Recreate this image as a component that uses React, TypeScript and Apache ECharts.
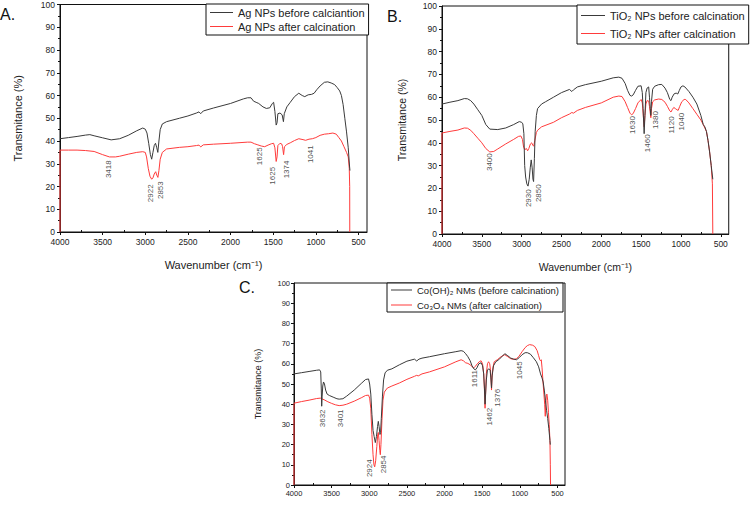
import React, { useEffect, useRef } from 'react';
import * as echarts from 'echarts';

const FONT = '"Liberation Sans", Arial, Helvetica, sans-serif';

const majorTicks = [500, 1000, 1500, 2000, 2500, 3000, 3500, 4000];
const minorTicks = [750, 1250, 1750, 2250, 2750, 3250, 3750];

// ---------- Panel A: Ag NPs ----------
const agNames = ['Ag NPs before calciantion', 'Ag NPs after calcination'];
const agBefore = [
  [4000, 41], [3900, 41.5], [3800, 42], [3700, 42.6], [3650, 42.8], [3600, 42.3], [3500, 41.4], [3400, 40.5],
  [3300, 41], [3200, 42.5], [3100, 44.5], [3030, 45.7], [3000, 45.2], [2980, 43.5], [2960, 39], [2940, 34],
  [2925, 32], [2910, 35], [2895, 38], [2880, 39], [2865, 37], [2853, 35], [2840, 40], [2825, 45], [2800, 47.5],
  [2750, 48.5], [2600, 50], [2500, 51], [2400, 52.3], [2370, 52.8], [2350, 52], [2320, 53.2], [2200, 54.5],
  [2000, 56.5], [1850, 58.5], [1800, 59], [1760, 59], [1730, 57.5], [1700, 57], [1670, 56.5], [1620, 55],
  [1580, 54.3], [1540, 54.6], [1510, 56.5], [1495, 57], [1480, 53], [1465, 47], [1455, 48], [1445, 52],
  [1420, 52.3], [1395, 51.5], [1380, 48.5], [1370, 52], [1340, 55], [1300, 57], [1250, 59.5], [1200, 61],
  [1160, 60], [1130, 59.5], [1090, 60.3], [1050, 60.5], [1020, 61], [990, 62.5], [950, 64.2], [900, 65.8],
  [860, 66], [820, 65.5], [780, 64.8], [750, 63.5], [720, 62], [700, 60], [680, 56], [660, 50], [640, 44],
  [620, 37], [605, 29], [600, 27],
];
const agAfter = [
  [4000, 0], [4000, 36], [3900, 36], [3800, 36], [3700, 35.8], [3600, 35.4], [3500, 34], [3420, 33], [3350, 33],
  [3300, 33.3], [3200, 34.2], [3100, 35], [3030, 35.3], [3000, 35], [2985, 33], [2965, 28], [2945, 24.5],
  [2925, 23.2], [2910, 23.8], [2895, 25.5], [2878, 26.5], [2865, 25], [2852, 24], [2840, 27], [2825, 32],
  [2800, 35], [2750, 36.5], [2600, 37.2], [2500, 37.5], [2400, 38], [2370, 38.2], [2350, 37.4], [2320, 38.3],
  [2200, 38.6], [2000, 39], [1800, 39.5], [1760, 39.5], [1720, 38.8], [1680, 38.3], [1640, 37.8], [1600, 37.5],
  [1560, 38.2], [1520, 38.8], [1495, 39], [1480, 37], [1465, 31], [1455, 33], [1445, 38], [1420, 39],
  [1400, 38.7], [1390, 37.5], [1378, 34], [1368, 37.5], [1340, 38.5], [1300, 39.2], [1250, 40.2], [1200, 41],
  [1150, 40.6], [1120, 40.3], [1080, 40.8], [1041, 41], [1000, 41.5], [950, 42.5], [900, 43], [850, 43.2],
  [800, 43.5], [760, 43], [730, 41.5], [700, 40], [670, 37.5], [640, 35], [620, 33], [608, 28], [603, 20], [602, 0],
];
const agPeakLabels = ['3418', '2922', '2853', '1625', '1625', '1374', '1041'];
const agPeakPos = [[3429, 27.6], [2941, 17], [2816, 18.4], [1664, 33.3], [1507, 24.7], [1343, 27.5], [1061, 34.2]];

// ---------- Panel B: TiO2 NPs ----------
const tiNames = ['TiO₂ NPs before calcination', 'TiO₂ NPs after calcination'];
const tiBefore = [
  [4000, 57], [3900, 57.8], [3800, 58.5], [3720, 59.4], [3680, 59.3], [3640, 58.5], [3600, 57], [3550, 54.5],
  [3500, 52], [3450, 48], [3400, 46], [3300, 45.8], [3200, 46.5], [3100, 48], [3030, 49.3], [3000, 49],
  [2985, 48.3], [2972, 44], [2962, 30], [2950, 25], [2935, 22], [2920, 21], [2905, 24], [2892, 29],
  [2880, 32.5], [2868, 29], [2858, 24], [2850, 23], [2840, 33], [2830, 45], [2815, 52], [2800, 55],
  [2750, 57], [2700, 58], [2600, 60], [2500, 62], [2400, 63.4], [2370, 62.5], [2350, 63.2], [2300, 64.5],
  [2200, 65.5], [2000, 67], [1850, 68.5], [1780, 68.8], [1740, 68.3], [1700, 66], [1670, 63], [1640, 60.8],
  [1620, 60.5], [1600, 61], [1570, 63], [1540, 64.8], [1500, 65], [1485, 62], [1475, 55], [1462, 44],
  [1452, 52], [1440, 62], [1425, 64], [1405, 64.5], [1395, 60], [1385, 55], [1378, 52], [1370, 58],
  [1355, 63.5], [1330, 64.8], [1280, 65.5], [1240, 65.6], [1200, 64], [1170, 62], [1140, 59], [1125, 58.5],
  [1110, 60], [1085, 61.5], [1060, 61.8], [1040, 61.4], [1020, 63], [1000, 64.5], [975, 65], [950, 64.5],
  [900, 62.5], [850, 60], [800, 57], [750, 52], [720, 48], [700, 47], [680, 45], [660, 41], [640, 36],
  [620, 30], [600, 24],
];
const tiAfter = [
  [4000, 0], [4000, 44.3], [3900, 45], [3800, 45.6], [3720, 46.5], [3680, 46.4], [3640, 45.5], [3600, 44],
  [3550, 42], [3500, 40], [3450, 37.5], [3400, 36], [3350, 36.2], [3300, 37.3], [3200, 39.5], [3100, 41.5],
  [3040, 42.8], [3010, 43], [2990, 41.5], [2975, 38], [2960, 37], [2940, 37.5], [2925, 36.5], [2910, 37.5],
  [2890, 39.5], [2875, 40], [2860, 39], [2848, 38.5], [2835, 41], [2815, 44.5], [2800, 45.5], [2750, 47],
  [2600, 49], [2500, 51], [2400, 52.6], [2370, 53.3], [2350, 53], [2300, 54.2], [2200, 55.5], [2000, 57.5],
  [1850, 60], [1780, 60.5], [1740, 60.3], [1700, 58], [1670, 55.5], [1640, 53], [1620, 52.3], [1600, 52.8],
  [1570, 55], [1540, 57.5], [1500, 59], [1485, 57.5], [1475, 53], [1462, 47], [1452, 52], [1440, 57],
  [1425, 58.5], [1405, 58.3], [1395, 56], [1385, 53], [1378, 51], [1370, 55], [1355, 58], [1330, 58.8],
  [1280, 59.2], [1240, 59], [1200, 57.8], [1170, 56], [1140, 54], [1125, 53.5], [1110, 54.5], [1090, 55.5],
  [1070, 55], [1050, 54.5], [1035, 54.2], [1015, 56], [990, 58], [960, 59], [940, 59], [900, 57.5],
  [850, 55], [800, 52.5], [750, 50], [720, 48], [700, 46.5], [680, 45], [660, 41], [640, 36], [620, 30],
  [605, 22], [600, 0],
];
const tiPeakLabels = ['3400', '2930', '2850', '1630', '1460', '1380', '1120', '1040'];
const tiPeakPos = [[3408, 31.5], [2913, 15.7], [2788, 17.9], [1602, 47.8], [1422, 39.8], [1316, 50], [1120, 47.8], [990, 49.3]];

// ---------- Panel C: Co(OH)2 / Co3O4 ----------
const coNames = ['Co(OH)₂ NMs (before calcination)', 'Co₃O₄ NMs (after calcination)'];
const coBefore = [
  [4000, 55], [3900, 55.6], [3800, 56.2], [3700, 56.8], [3660, 57], [3645, 56], [3638, 48], [3632, 39],
  [3626, 44], [3618, 49], [3608, 51], [3595, 50], [3580, 47], [3560, 45], [3530, 44.3], [3480, 43.5],
  [3430, 42.7], [3400, 42.5], [3350, 42.7], [3300, 44], [3200, 47], [3100, 50.5], [3050, 52.2], [3010, 52.5],
  [2995, 50], [2980, 45], [2965, 35], [2950, 27], [2935, 24], [2920, 21], [2905, 24], [2890, 29], [2880, 31.5],
  [2870, 29], [2858, 25], [2850, 26], [2840, 33], [2825, 44], [2810, 52], [2790, 55.5], [2760, 56.8],
  [2700, 57.5], [2600, 59.5], [2500, 61.3], [2400, 62.3], [2370, 61.4], [2340, 62.3], [2300, 62.8],
  [2200, 63.5], [2000, 65], [1850, 66], [1780, 66.5], [1750, 66.2], [1720, 65], [1690, 63.5], [1660, 61.5],
  [1635, 59], [1611, 57.5], [1590, 57], [1570, 58], [1545, 60], [1515, 60.5], [1495, 59], [1480, 55],
  [1470, 48], [1462, 40], [1455, 45], [1445, 52], [1430, 57], [1410, 57.5], [1395, 57], [1385, 53],
  [1376, 48], [1368, 54], [1350, 59], [1320, 61], [1280, 62], [1240, 63.5], [1200, 65], [1160, 64],
  [1120, 62.8], [1080, 62.3], [1045, 62], [1010, 63], [970, 64.5], [930, 65.5], [900, 65.5], [860, 64.8],
  [820, 63], [780, 61], [750, 58.5], [725, 55], [705, 53], [690, 51], [675, 47], [660, 42], [645, 37],
  [630, 33], [615, 28], [600, 22], [595, 20],
];
const coAfter = [
  [4000, 0], [4000, 40.5], [3900, 41.3], [3800, 42], [3700, 42.8], [3650, 43], [3600, 42.2], [3550, 41.2],
  [3500, 40.4], [3450, 39.7], [3400, 39.3], [3350, 39.5], [3300, 40], [3200, 41.5], [3100, 43.3], [3050, 44.3],
  [3010, 44.5], [2995, 43], [2980, 38], [2965, 25], [2950, 15], [2938, 10], [2928, 9], [2915, 12], [2900, 19],
  [2888, 25], [2880, 26], [2870, 22], [2860, 17], [2853, 15], [2845, 20], [2832, 32], [2818, 42], [2800, 46],
  [2760, 48], [2700, 49], [2600, 50.5], [2500, 52.3], [2400, 53.8], [2370, 54.3], [2350, 54], [2300, 55],
  [2200, 56], [2000, 58.5], [1850, 61], [1780, 62], [1750, 61.5], [1720, 60.5], [1690, 60.2], [1660, 59.5],
  [1630, 58.5], [1611, 58], [1590, 58.8], [1565, 60], [1540, 61], [1515, 61.5], [1495, 60], [1480, 55],
  [1470, 47], [1462, 38], [1455, 45], [1445, 55], [1430, 60], [1415, 61], [1400, 60], [1390, 57], [1382, 52],
  [1376, 47], [1370, 53], [1358, 58], [1340, 61], [1300, 62], [1250, 63.5], [1200, 64.5], [1160, 63.5],
  [1120, 62.5], [1080, 62.2], [1045, 62.5], [1010, 63.8], [970, 66], [930, 68], [900, 69], [870, 69.5],
  [830, 69.2], [800, 68.5], [770, 66.5], [750, 64], [735, 62], [725, 61.5], [715, 62], [705, 58], [690, 50],
  [680, 45], [670, 40], [662, 34], [655, 40], [648, 44.5], [640, 45], [630, 42], [620, 36], [610, 30],
  [600, 22], [595, 10], [592, 0],
];
const coPeakLabels = ['3632', '3401', '2924', '2854', '1611', '1462', '1376', '1045'];
const coPeakPos = [[3615, 33], [3383, 33], [2994, 8.3], [2808, 10.2], [1602, 52.7], [1408, 33.8], [1301, 43.2], [1010, 56.8]];

const panelLetters = ['A.', 'B.', 'C.'];
const xAxisTitle = 'Wavenumber (cm⁻¹)';
const yAxisTitle = 'Transmitance (%)';

const BLACK = '#3a3a3a';
const RED = '#ff3b3b';

const panels = [
  {
    names: agNames, before: agBefore, after: agAfter, peakLabels: agPeakLabels, peakPos: agPeakPos,
    grid: { left: 60, top: 4, width: 307, height: 228 },
    tickSize: 8.5, nameSize: 11, yNameGap: 37, xName: xAxisTitle, xNameGap: 27, labelMargin: 5,
    legend: { left: 206, top: 4, padding: [3, 4, 3, 4], itemGap: 3, fontSize: 11, itemWidth: 23 },
    letter: { x: 0, y: 6, size: 16 },
  },
  {
    names: tiNames, before: tiBefore, after: tiAfter, peakLabels: tiPeakLabels, peakPos: tiPeakPos,
    grid: { left: 442, top: 6, width: 307, height: 228 },
    tickSize: 8.5, nameSize: 10.5, yNameGap: 35, xName: xAxisTitle, xNameGap: 27, labelMargin: 5,
    legend: { left: 577, top: 5, padding: [5, 4, 5, 4], itemGap: 7, fontSize: 11, itemWidth: 24 },
    letter: { x: 387, y: 8, size: 16 },
  },
  {
    names: coNames, before: coBefore, after: coAfter, peakLabels: coPeakLabels, peakPos: coPeakPos,
    grid: { left: 294, top: 283, width: 271, height: 202 },
    tickSize: 7.5, nameSize: 9, yNameGap: 32, xName: '', xNameGap: 25, labelMargin: 4,
    legend: { left: 387, top: 283, padding: [2, 4, 2, 4], itemGap: 5, fontSize: 9.5, itemWidth: 21 },
    letter: { x: 239, y: 279, size: 16 },
  },
];

const plainNumber = (v: number) => String(v);

function buildOption() {
  const grid: any[] = [];
  const xAxis: any[] = [];
  const yAxis: any[] = [];
  const series: any[] = [];
  const legend: any[] = [];
  const graphic: any[] = [];

  panels.forEach((p, i) => {
    grid.push({ ...p.grid, show: true, borderColor: '#111', borderWidth: 1, backgroundColor: 'transparent' });
    xAxis.push({
      type: 'value', gridIndex: i, min: 400, max: 4000, inverse: true,
      name: p.xName, nameLocation: 'middle', nameGap: p.xNameGap,
      nameTextStyle: { fontFamily: FONT, fontSize: p.nameSize, color: '#222' },
      axisLine: { show: true, onZero: false, lineStyle: { color: '#111', width: 1 } },
      axisTick: { show: true, inside: false, length: 3, customValues: majorTicks, lineStyle: { color: '#111' } },
      axisLabel: {
        show: true, customValues: majorTicks, formatter: plainNumber,
        fontFamily: FONT, fontSize: p.tickSize, color: '#222', margin: p.labelMargin,
      },
      splitLine: { show: false },
    });
    xAxis.push({
      type: 'value', gridIndex: i, min: 400, max: 4000, inverse: true,
      axisLine: { show: false },
      axisTick: { show: true, inside: false, length: 2, customValues: minorTicks, lineStyle: { color: '#111' } },
      axisLabel: { show: false, customValues: minorTicks },
      splitLine: { show: false },
    });
    yAxis.push({
      type: 'value', gridIndex: i, min: 0, max: 100, interval: 10,
      name: yAxisTitle, nameLocation: 'middle', nameRotate: 90, nameGap: p.yNameGap,
      nameTextStyle: { fontFamily: FONT, fontSize: p.nameSize, color: '#222' },
      axisLine: { show: true, onZero: false, lineStyle: { color: '#111', width: 1 } },
      axisTick: { show: true, inside: false, length: 3, lineStyle: { color: '#111' } },
      minorTick: { show: true, splitNumber: 2, length: 2, lineStyle: { color: '#111' } },
      axisLabel: { formatter: plainNumber, fontFamily: FONT, fontSize: p.tickSize, color: '#222', margin: p.labelMargin },
      splitLine: { show: false },
    });
    series.push({
      type: 'line', name: p.names[0], xAxisIndex: i * 2, yAxisIndex: i, data: p.before,
      symbol: 'none', showSymbol: false, smooth: false,
      lineStyle: { color: BLACK, width: 1 }, itemStyle: { color: BLACK }, z: 3,
    });
    series.push({
      type: 'line', name: p.names[1], xAxisIndex: i * 2, yAxisIndex: i, data: p.after,
      symbol: 'none', showSymbol: false, smooth: false,
      lineStyle: { color: RED, width: 1 }, itemStyle: { color: RED }, z: 2,
    });
    series.push({
      type: 'scatter', xAxisIndex: i * 2, yAxisIndex: i, silent: true, z: 5,
      symbolSize: 1, itemStyle: { color: 'rgba(0,0,0,0)' },
      data: p.peakPos.map((pos, k) => ({ value: pos, name: p.peakLabels[k] })),
      label: {
        show: true, position: 'inside', rotate: 90, formatter: '{b}',
        fontFamily: FONT, fontSize: 8, color: '#222',
      },
    });
    legend.push({
      data: p.names.map((n) => ({ name: n, icon: 'rect' })),
      orient: 'vertical', left: p.legend.left, top: p.legend.top,
      padding: p.legend.padding, itemGap: p.legend.itemGap, itemWidth: p.legend.itemWidth, itemHeight: 1,
      borderColor: '#111', borderWidth: 1, borderRadius: 0, backgroundColor: '#fff', selectedMode: false,
      textStyle: { fontFamily: FONT, fontSize: p.legend.fontSize, color: '#222' },
    });
    graphic.push({
      type: 'text', left: p.letter.x, top: p.letter.y,
      style: { text: panelLetters[i], fontFamily: FONT, fontSize: p.letter.size, fill: '#111' },
    });
  });

  return {
    animation: false,
    backgroundColor: '#fff',
    grid, xAxis, yAxis, series, legend, graphic,
  };
}

export default function App() {
  const ref = useRef<HTMLDivElement>(null);
  useEffect(() => {
    if (!ref.current) return;
    const chart = echarts.init(ref.current, undefined, { renderer: 'svg' });
    chart.setOption(buildOption() as any);
    return () => chart.dispose();
  }, []);
  return (
    <div
      ref={ref}
      style={{ position: 'absolute', left: 0, top: 0, width: 750, height: 508, background: '#fff' }}
    />
  );
}
